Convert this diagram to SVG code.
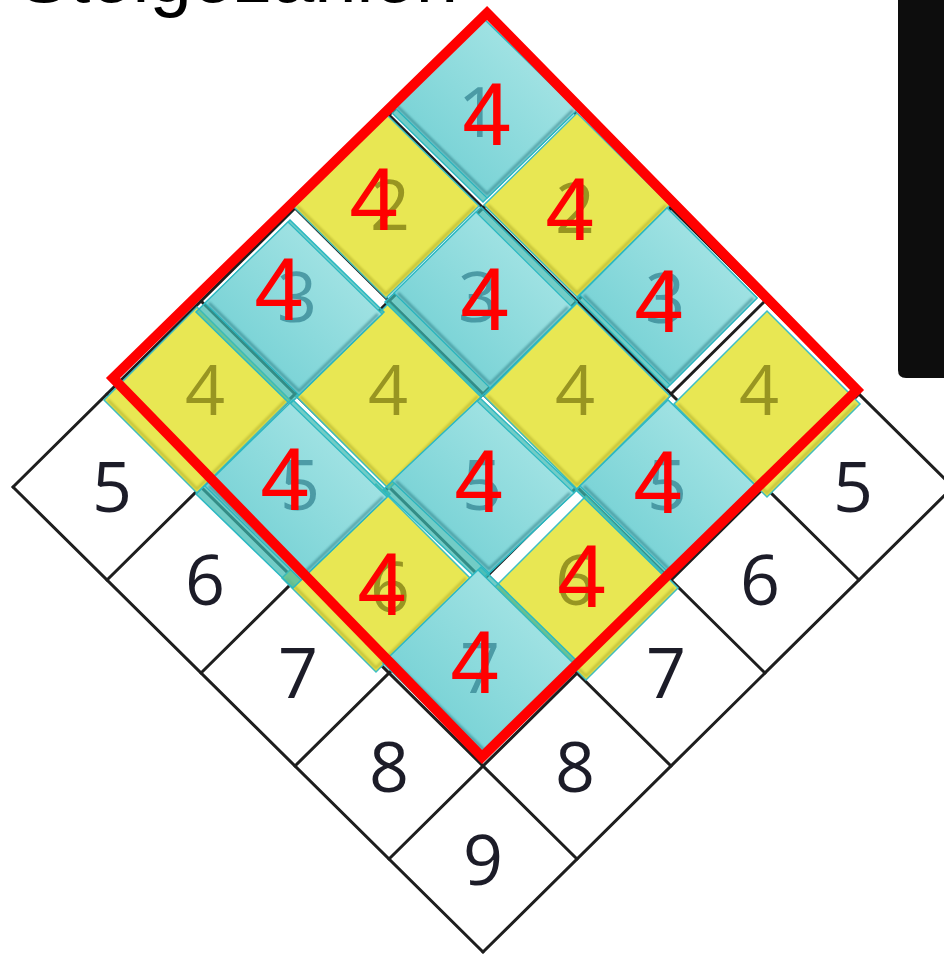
<svg xmlns="http://www.w3.org/2000/svg" width="944" height="954" viewBox="0 0 944 954">
<defs>
<style>
.grid{stroke:#1e1e1e;stroke-width:3;fill:none;stroke-linecap:round}
.num{font-family:"Open Sans","Noto Sans",sans-serif;font-size:70px;text-anchor:middle}
.wnum{fill:#1c1c28}
.cnum{fill:#2e7f8e;opacity:.7}
.ynum{fill:#8a871c;opacity:.85}
.red4{font-family:"Liberation Sans",Arial,sans-serif;font-size:89px;fill:#ff0000;text-anchor:middle}
.ytile{fill:#e8e753;stroke:#3cbfc6;stroke-width:1.5}
.yshade{fill:none;stroke:#9c971c;stroke-width:3;opacity:.45}
.couter{fill:#3cb8b0;fill-opacity:.72;stroke:#2cb8c2;stroke-width:1.5}
.cbody{fill:url(#cg);stroke:#2cb8c2;stroke-width:1.2}
.cshade{fill:none;stroke:#1d6c75;stroke-width:3;opacity:.5}
</style>
<linearGradient id="cg" x1="1" y1="0" x2="0" y2="1">
<stop offset="0" stop-color="#b2e9e9"/>
<stop offset="1" stop-color="#68ccd0"/>
</linearGradient>
<filter id="bl" x="-10%" y="-10%" width="120%" height="120%"><feGaussianBlur stdDeviation="1.3"/></filter>
<filter id="sb" x="-10%" y="-10%" width="120%" height="120%"><feGaussianBlur stdDeviation="0.6"/></filter>
</defs>
<rect width="944" height="954" fill="#ffffff"/>
<text x="458" y="2" font-family="Liberation Sans,Arial,sans-serif" font-size="76" text-anchor="end" fill="#000">Steigezahlen</text>
<path d="M898 0 H944 V378 H906 Q898 378 898 370 Z" fill="#0d0d0d"/>
<g id="grid" class="grid">
<line x1="483" y1="22" x2="953" y2="487"/>
<line x1="389" y1="115" x2="859" y2="580"/>
<line x1="295" y1="208" x2="765" y2="673"/>
<line x1="201" y1="301" x2="671" y2="766"/>
<line x1="107" y1="394" x2="577" y2="859"/>
<line x1="13" y1="487" x2="483" y2="952"/>
<line x1="483" y1="22" x2="13" y2="487"/>
<line x1="577" y1="115" x2="107" y2="580"/>
<line x1="671" y1="208" x2="201" y2="673"/>
<line x1="765" y1="301" x2="295" y2="766"/>
<line x1="859" y1="394" x2="389" y2="859"/>
<line x1="953" y1="487" x2="483" y2="952"/>
</g>
<g id="white-numbers" class="num wnum">
<text x="112" y="512">5</text><text x="853" y="512">5</text>
<text x="205" y="605">6</text><text x="760" y="605">6</text>
<text x="298" y="698">7</text><text x="666" y="698">7</text>
<text x="389" y="792">8</text><text x="575" y="792">8</text>
<text x="483" y="885">9</text>
</g>
<g id="yellow-tiles">
<g id="y1L"><polygon class="ytile" points="386,114 479,206 386,298 293,206"/><polyline class="yshade" filter="url(#bl)" points="297,206 386,294 475,206"/></g>
<g id="y1R"><polygon class="ytile" points="577,113 670,205 577,297 484,205"/><polyline class="yshade" filter="url(#bl)" points="488,205 577,293 666,205"/></g>
<g id="y3a"><polygon class="ytile" points="197,307 290,400 197,493 104,400"/><polyline class="yshade" filter="url(#bl)" points="108,400 197,489 286,400"/></g>
<g id="y3b"><polygon class="ytile" points="389,303 482,396 389,489 296,396"/><polyline class="yshade" filter="url(#bl)" points="300,396 389,485 478,396"/></g>
<g id="y3c"><polygon class="ytile" points="577,303 670,396 577,489 484,396"/><polyline class="yshade" filter="url(#bl)" points="488,396 577,485 666,396"/></g>
<g id="y3d"><polygon class="ytile" points="767,311 860,404 767,497 674,404"/><polyline class="yshade" filter="url(#bl)" points="678,404 767,493 856,404"/></g>
<g id="y5L"><polygon class="ytile" points="376,484 470,578 376,672 282,578"/><polyline class="yshade" filter="url(#bl)" points="286,578 376,668 466,578"/></g>
<g id="y5R"><polygon class="ytile" points="586,496 678,588 586,680 494,588"/><polyline class="yshade" filter="url(#bl)" points="498,588 586,676 674,588"/></g>
</g>
<g id="cyan-tiles">
<g id="c0"><polygon class="couter" points="483,18 577,110 483,202 389,110"/><polygon class="cbody" points="483,18 577,110 487,198 393,106"/><polyline class="cshade" filter="url(#bl)" points="397,106 487,194 573,110"/></g>
<g id="c2L"><polygon class="couter" points="290,220 384,312 290,404 196,312"/><polygon class="cbody" points="288,222 382,314 299,395 205,303"/><polyline class="cshade" filter="url(#bl)" points="209,303 299,391 378,314"/></g>
<g id="c2C"><polygon class="couter" points="481,207 577,302 481,397 385,302"/><polygon class="cbody" points="476,212 572,307 490,388 394,293"/><polyline class="cshade" filter="url(#bl)" points="398,293 490,384 568,307"/></g>
<g id="c2R"><polygon class="couter" points="667,208 757,298 667,388 577,298"/><polygon class="cbody" points="667,208 757,298 670,385 580,295"/><polyline class="cshade" filter="url(#bl)" points="584,295 670,381 753,298"/></g>
<g id="c4L"><polygon class="couter" points="293,400 390,494 293,588 196,494"/><polygon class="cbody" points="290,403 387,497 301,580 205,486"/><polyline class="cshade" filter="url(#bl)" points="209,486 301,576 383,497"/></g>
<g id="c4C"><polygon class="couter" points="480,398 577,490 480,582 383,490"/><polygon class="cbody" points="477,401 574,493 489,573 392,481"/><polyline class="cshade" filter="url(#bl)" points="396,481 489,569 570,493"/></g>
<g id="c4R"><polygon class="couter" points="668,400 760,490 668,580 576,490"/><polygon class="cbody" points="668,400 760,490 672,576 580,486"/><polyline class="cshade" filter="url(#bl)" points="584,486 672,572 756,490"/></g>
<g id="c6"><polygon class="couter" points="481,567 579,663 481,759 383,663"/><polygon class="cbody" points="478,570 576,666 485,755 387,659"/><polyline class="cshade" filter="url(#bl)" points="391,659 485,751 572,666"/></g>
</g>
<g id="faint-numbers" class="num" filter="url(#sb)">
<g class="cnum">
<text x="478" y="137">1</text>
<text x="297" y="322">3</text><text x="478" y="322">3</text><text x="665" y="323">3</text>
<text x="300" y="510">5</text><text x="482" y="510">5</text><text x="667" y="510">5</text>
<text x="480" y="693">7</text>
</g>
<g class="ynum">
<text x="390" y="230">2</text><text x="575" y="233">2</text>
<text x="205" y="415">4</text><text x="388" y="415">4</text><text x="575" y="415">4</text><text x="759" y="415">4</text>
<text x="390" y="612">6</text><text x="575" y="605">6</text>
</g>
</g>
<g id="connectors">
<polygon id="outline" points="487,13 857,390 482,757 113,378" fill="none" stroke="#ff0000" stroke-width="10" stroke-linejoin="miter"/>
</g>
<g id="red-labels" class="red4">
<text x="487" y="145">4</text>
<text x="374" y="230">4</text><text x="570" y="240">4</text>
<text x="279" y="320">4</text><text x="485" y="330">4</text><text x="659" y="332">4</text>
<text x="285" y="510">4</text><text x="479" y="512">4</text><text x="658" y="513">4</text>
<text x="382" y="615">4</text><text x="582" y="607">4</text>
<text x="475" y="693">4</text>
</g>
</svg>
